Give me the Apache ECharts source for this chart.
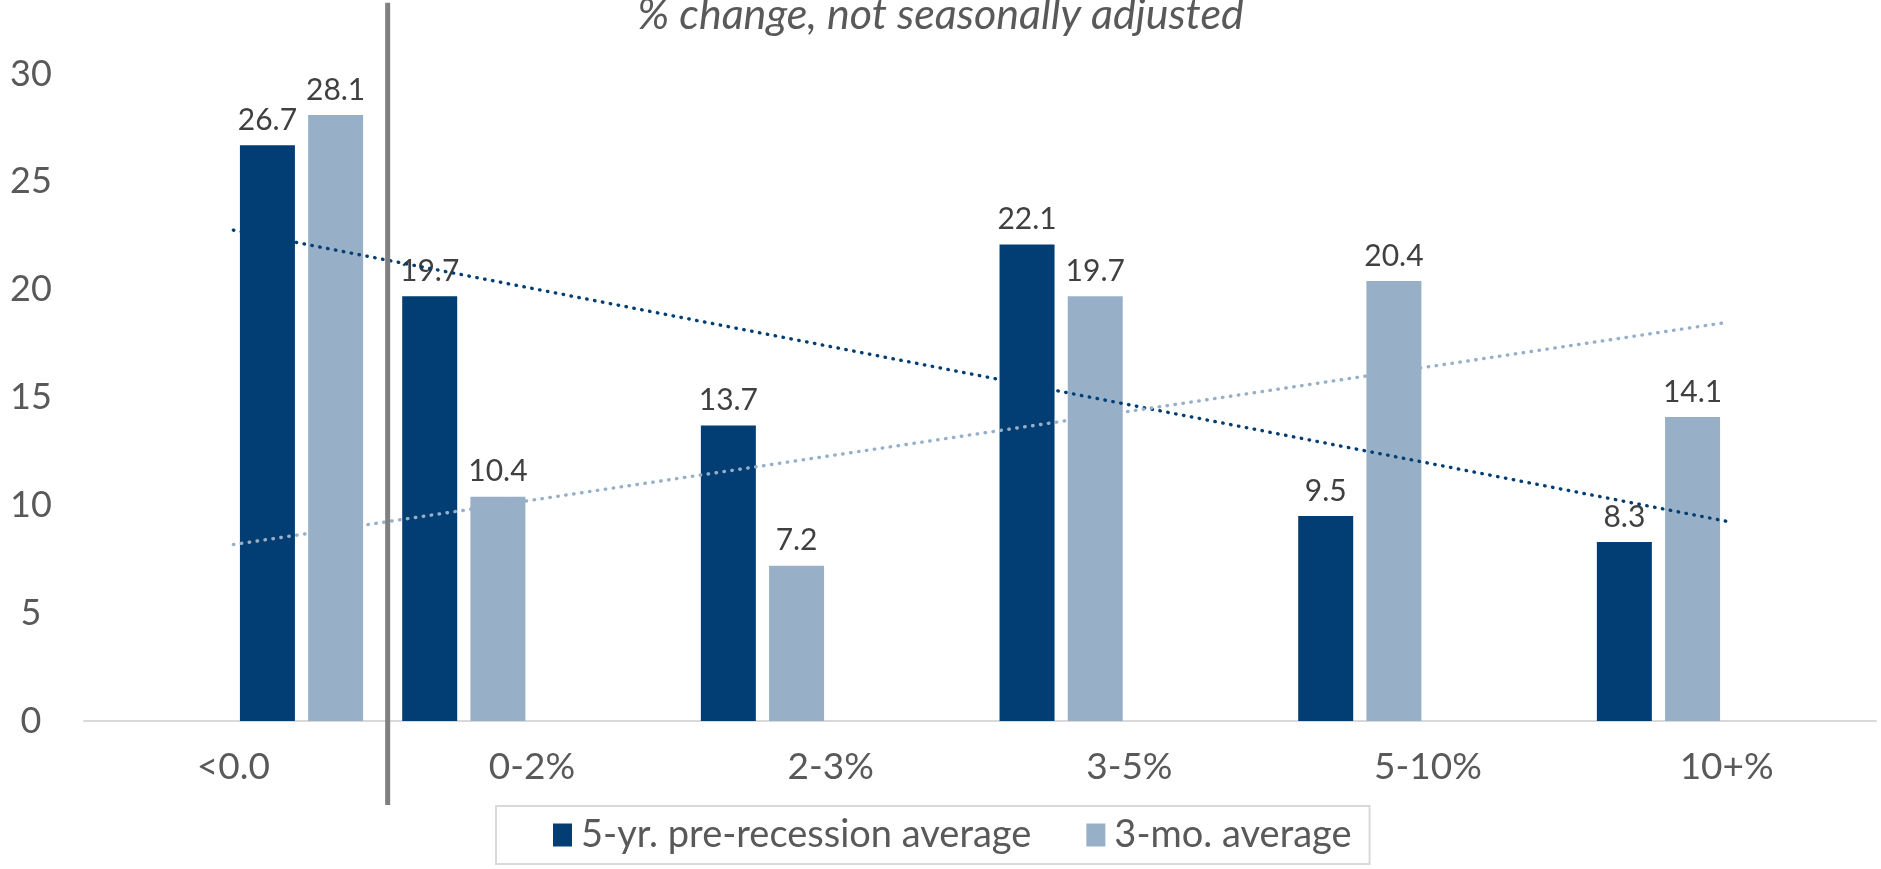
<!DOCTYPE html>
<html><head><meta charset="utf-8">
<script src="https://cdn.jsdelivr.net/npm/echarts@6/dist/echarts.min.js"></script>
<style>html,body{margin:0;padding:0;background:#fff}#c{width:1881px;height:869px}</style>
</head><body><div id="c"></div>
<script>
// ---- data ----
const categories = ['<0.0', '0-2%', '2-3%', '3-5%', '5-10%', '10+%'];
const preRecession = [26.7, 19.7, 13.7, 22.1, 9.5, 8.3];
const threeMonth = [28.1, 10.4, 7.2, 19.7, 20.4, 14.1];
const seriesNames = ['5-yr. pre-recession average', '3-mo. average'];
const titleText = '% change, not seasonally adjusted';
const yMin = 0, yMax = 30, yStep = 5;

const DARK = '#023e73', LIGHT = '#97b0c8';
const FONT = 'Lato';

// first category is drawn in its own pair of series (slots 3 & 4), the rest in slots 1 & 2
const restPre = preRecession.map((v, i) => i === 0 ? '-' : v);
const restThree = threeMonth.map((v, i) => i === 0 ? '-' : v);
const firstPre = preRecession.map((v, i) => i === 0 ? v : '-');
const firstThree = threeMonth.map((v, i) => i === 0 ? v : '-');

// linear trendline (least squares) over the plotted points of a series, extended over all categories
function trend(vals) {
  const pts = [];
  vals.forEach((v, i) => { if (v !== '-') pts.push([i, v]); });
  const n = pts.length;
  const mx = pts.reduce((s, p) => s + p[0], 0) / n;
  const my = pts.reduce((s, p) => s + p[1], 0) / n;
  let sxy = 0, sxx = 0;
  pts.forEach(p => { sxy += (p[0] - mx) * (p[1] - my); sxx += (p[0] - mx) * (p[0] - mx); });
  const b = sxy / sxx, a = my - b * mx;
  return categories.map((_, i) => a + b * i);
}

const labelCfg = { show: true, position: 'top', distance: 10, color: '#404040', fontSize: 30, fontFamily: FONT };
function bar(name, data, color) {
  return { type: 'bar', name, data, barWidth: 55, barGap: '24%',
    itemStyle: { color }, label: labelCfg, z: 2 };
}
function trendLine(data, color) {
  return { type: 'line', name: 'trend', data, symbol: 'none', silent: true, z: 5,
    lineStyle: { color, width: 3.4, type: [0.5, 7.5], cap: 'round' } };
}

const chart = echarts.init(document.getElementById('c'), null, { renderer: 'canvas' });
const option = {
  animation: false,
  backgroundColor: '#ffffff',
  textStyle: { fontFamily: FONT },
  title: { text: titleText, left: 'center', top: -11,
    textStyle: { fontFamily: FONT, fontStyle: 'italic', fontWeight: 'normal', fontSize: 43, color: '#595959' } },
  grid: { left: 84, right: 5, top: 74, bottom: 148, containLabel: false },
  legend: {
    data: seriesNames, left: 496, top: 806, orient: 'horizontal',
    icon: 'rect', itemWidth: 19, itemHeight: 23, itemGap: 55,
    padding: [10, 18, 10, 57], borderColor: '#d9d9d9', borderWidth: 2,
    textStyle: { fontFamily: FONT, fontSize: 38, color: '#595959', padding: [0, 0, 0, 4] }
  },
  xAxis: {
    type: 'category', data: categories,
    axisLine: { lineStyle: { color: '#d9d9d9', width: 2 } },
    axisTick: { show: false },
    axisLabel: { fontFamily: FONT, fontSize: 37, color: '#595959', margin: 28 }
  },
  yAxis: {
    type: 'value', min: yMin, max: yMax, interval: yStep,
    splitLine: { show: false }, axisLine: { show: false }, axisTick: { show: false },
    axisLabel: { fontFamily: FONT, fontSize: 36, color: '#595959', align: 'center', margin: 53 }
  },
  series: [
    bar(seriesNames[0], restPre, DARK),
    bar(seriesNames[1], restThree, LIGHT),
    bar(seriesNames[0], firstPre, DARK),
    bar(seriesNames[1], firstThree, LIGHT),
    trendLine(trend(restPre), DARK),
    trendLine(trend(restThree), LIGHT)
  ]
};
chart.setOption(option);

// vertical separator between the first and second categories
const xa = chart.convertToPixel({ xAxisIndex: 0 }, categories[0]);
const xb = chart.convertToPixel({ xAxisIndex: 0 }, categories[1]);
const xs = (xa + xb) / 2 + 5;
const yTop = chart.convertToPixel({ yAxisIndex: 0 }, 33.3);
const yBot = chart.convertToPixel({ yAxisIndex: 0 }, -3.9);
chart.setOption({ graphic: [{ type: 'line', z: 10,
  shape: { x1: xs, y1: yTop, x2: xs, y2: yBot },
  style: { stroke: '#808080', lineWidth: 5 } }] });
</script></body></html>
